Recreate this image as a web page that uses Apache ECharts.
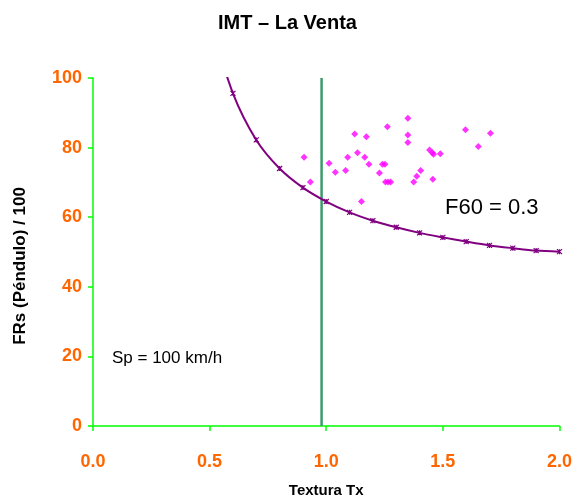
<!DOCTYPE html>
<html>
<head>
<meta charset="utf-8">
<script src="https://cdn.jsdelivr.net/npm/echarts@6/dist/echarts.min.js"></script>
<style>html,body{margin:0;padding:0;background:#fff}#c{width:575px;height:504px}</style>
</head>
<body>
<div id="c"></div>
<script>
// Curve F60 = 0.3 (Texture vs FRs)
const curveX = [0.5, 0.6, 0.7, 0.8, 0.9, 1.0, 1.1, 1.2, 1.3, 1.4, 1.5, 1.6, 1.7, 1.8, 1.9, 2.0];
const curveY = [117, 95.6, 82.2, 74.0, 68.5, 64.5, 61.4, 59.0, 57.1, 55.5, 54.2, 53.0, 51.9, 51.1, 50.4, 50.1];
// Measured points
const ptsX = [0.905, 0.932, 1.012, 1.039, 1.083, 1.092, 1.122, 1.134, 1.165, 1.172, 1.183, 1.151, 1.228, 1.241, 1.252, 1.262, 1.254, 1.265, 1.276, 1.350, 1.350, 1.350, 1.375, 1.388, 1.405, 1.443, 1.455, 1.460, 1.489, 1.457, 1.597, 1.652, 1.704];
const ptsY = [77.2, 70.1, 75.5, 72.9, 73.4, 77.2, 83.9, 78.5, 77.2, 83.1, 75.2, 64.5, 72.7, 75.2, 75.2, 86.0, 70.1, 70.1, 70.1, 88.4, 83.6, 81.5, 70.1, 71.8, 73.4, 79.3, 78.5, 78.1, 78.2, 70.9, 85.1, 80.3, 84.1];
// Vertical reference at Tx
const refX = [0.98, 0.98];
const refY = [0, 100];
const xTicks = [0.0, 0.5, 1.0, 1.5, 2.0];
const yTicks = [0, 20, 40, 60, 80, 100];

const zip = (a, b) => a.map((v, i) => [v, b[i]]);
const chart = echarts.init(document.getElementById('c'), null, {renderer: 'canvas'});
const orange = '#ff6600';
const green = '#00ff00';
const font = 'Liberation Sans';
chart.setOption({
  animation: false,
  backgroundColor: '#ffffff',
  title: {
    text: 'IMT – La Venta', left: 'center', top: 8,
    textStyle: {fontFamily: font, fontWeight: 'bold', fontSize: 20, color: '#000'}
  },
  grid: {left: 93, right: 15, top: 78, bottom: 78},
  xAxis: {
    type: 'value', min: 0, max: 2, interval: 0.5,
    name: 'Textura Tx', nameLocation: 'middle', nameGap: 57,
    nameTextStyle: {fontFamily: font, fontWeight: 'bold', fontSize: 15, color: '#000'},
    axisLine: {show: true, lineStyle: {color: green, width: 1.5}},
    axisTick: {show: true, length: 5, inside: false, lineStyle: {color: green, width: 1.5}},
    axisLabel: {formatter: v => v.toFixed(1), margin: 27, fontFamily: font, fontWeight: 'bold', fontSize: 18, color: orange},
    splitLine: {show: false}
  },
  yAxis: {
    type: 'value', min: 0, max: 100, interval: 20,
    axisLine: {show: true, lineStyle: {color: green, width: 1.5}},
    axisTick: {show: true, length: 5, lineStyle: {color: green, width: 1.5}},
    axisLabel: {margin: 11, fontFamily: font, fontWeight: 'bold', fontSize: 18, color: orange},
    splitLine: {show: false}
  },
  series: [
    {
      type: 'line', data: zip(refX, refY), symbol: 'none',
      lineStyle: {color: '#3c9a6a', width: 2.5}, z: 2
    },
    {
      type: 'line', data: zip(curveX, curveY), smooth: 0.3, clip: true,
      symbol: 'path://M0,0 L10,10 M10,0 L0,10 M5,0 L5,10', symbolSize: 5,
      itemStyle: {color: '#800080', borderColor: '#800080', borderWidth: 1.2},
      lineStyle: {color: '#800080', width: 2}, z: 3
    },
    {
      type: 'scatter', data: zip(ptsX, ptsY), symbol: 'diamond', symbolSize: 7,
      itemStyle: {color: '#ff00ff'}, z: 4
    }
  ],
  graphic: [
    {type: 'text', x: 20, y: 266, rotation: Math.PI / 2,
     style: {text: 'FRs (Péndulo) / 100', fontFamily: font, fontWeight: 'bold', fontSize: 17, fill: '#000', align: 'center', verticalAlign: 'middle'}},
    {type: 'text', left: 112, top: 350, style: {text: 'Sp = 100 km/h', fontFamily: font, fontSize: 17, fill: '#000'}},
    {type: 'text', left: 445, top: 197, style: {text: 'F60 = 0.3', fontFamily: font, fontSize: 22, fill: '#000'}}
  ]
});
</script>
</body>
</html>
